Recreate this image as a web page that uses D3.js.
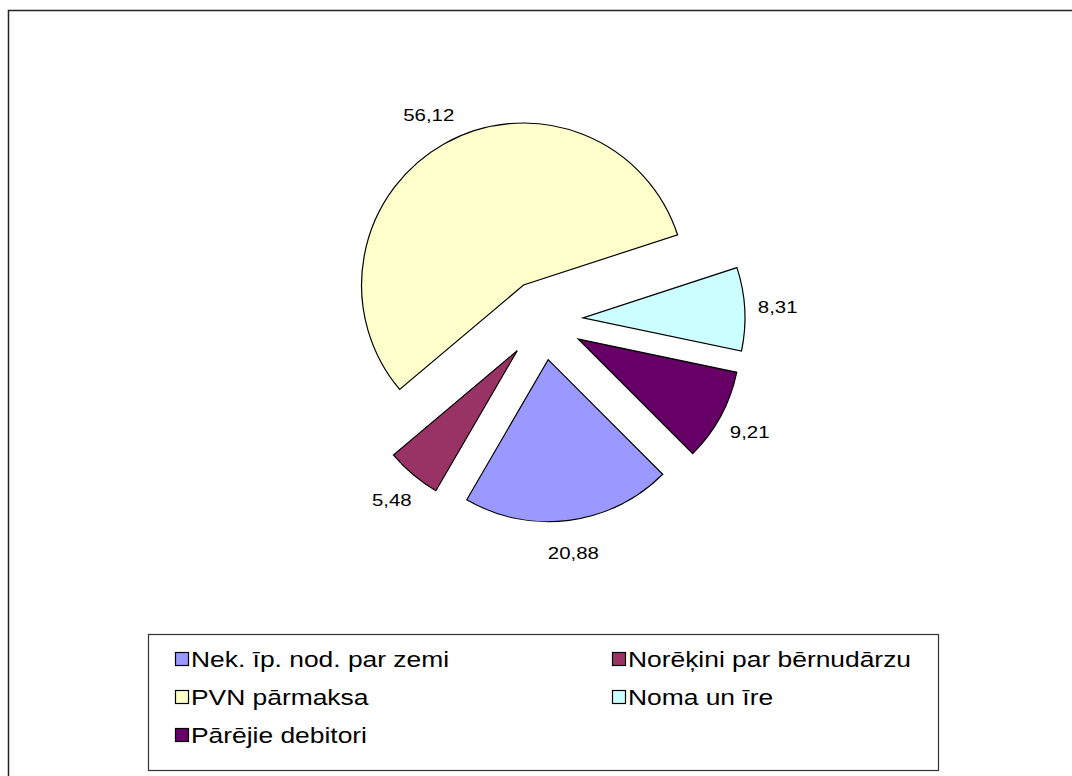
<!DOCTYPE html>
<html>
<head>
<meta charset="utf-8">
<script src="https://cdn.jsdelivr.net/npm/d3@7"></script>
<style>
  body { margin: 0; background: #fff; }
  text { font-family: "Liberation Sans", Arial, sans-serif; fill: #000; }
</style>
</head>
<body>
<div id="chart"></div>
<script>
// data
const categories = ['Nek. īp. nod. par zemi', 'Norēķini par bērnudārzu', 'PVN pārmaksa', 'Noma un īre', 'Pārējie debitori'];
const values = [20.88, 5.48, 56.12, 8.31, 9.21];
const palette = ['#9999FF', '#993366', '#FFFFCC', '#CCFFFF', '#660066'];

const w = 1072, h = 776;
const cx = 543, cy = 320, radius = 162, explode = 40, labelGap = 33;
const stretch = 1.2; // the original text is drawn a bit wider than it is tall

const svg = d3.select('#chart')
              .append('svg')
              .attr('width', w)
              .attr('height', h);

// outer chart frame (runs off the right and bottom edge)
svg.append('rect')
   .attr('x', 8.5)
   .attr('y', 10.5)
   .attr('width', 1100)
   .attr('height', 800)
   .attr('fill', 'none')
   .attr('stroke', '#222')
   .attr('stroke-width', 1.5);

const color = d3.scaleOrdinal().domain(categories).range(palette);
const fmt = v => d3.format('.2f')(v).replace('.', ',');

const pie = d3.pie()
              .sort(null)
              .value(d => d.value)
              .startAngle(Math.PI * 0.75)
              .endAngle(Math.PI * 2.75);

const arc = d3.arc().innerRadius(0).outerRadius(radius);

const arcs = pie(categories.map((c, i) => ({ name: c, value: values[i] })));

const g = svg.append('g').attr('transform', `translate(${cx},${cy})`);

const mid = d => (d.startAngle + d.endAngle) / 2;

g.selectAll('path')
 .data(arcs)
 .enter()
 .append('path')
 .attr('transform', d => `translate(${Math.sin(mid(d)) * explode},${-Math.cos(mid(d)) * explode})`)
 .attr('d', arc)
 .attr('fill', d => color(d.data.name))
 .attr('stroke', '#000')
 .attr('stroke-width', 1.2)
 .attr('stroke-linejoin', 'miter');

const lr = radius + explode + labelGap;
g.selectAll('text.lbl')
 .data(arcs)
 .enter()
 .append('text')
 .attr('class', 'lbl')
 .attr('transform', d => `translate(${Math.sin(mid(d)) * lr},${-Math.cos(mid(d)) * lr}) scale(${stretch},1)`)
 .attr('text-anchor', 'middle')
 .attr('dominant-baseline', 'central')
 .attr('font-size', '17px')
 .text(d => fmt(d.data.value));

// legend
const legend = svg.append('g');
legend.append('rect')
      .attr('x', 148.5)
      .attr('y', 634.5)
      .attr('width', 790)
      .attr('height', 136)
      .attr('fill', '#fff')
      .attr('stroke', '#333')
      .attr('stroke-width', 1.2);

const colX = [175, 612];
const rowY = [659, 697, 735];
const items = legend.selectAll('g.item')
                    .data(categories)
                    .enter()
                    .append('g')
                    .attr('class', 'item')
                    .attr('transform', (d, i) => `translate(${colX[i % 2]},${rowY[Math.floor(i / 2)]})`);

items.append('rect')
     .attr('x', 0.5)
     .attr('y', -6.5)
     .attr('width', 13)
     .attr('height', 13)
     .attr('fill', d => color(d))
     .attr('stroke', '#000')
     .attr('stroke-width', 1.2);

items.append('text')
     .attr('transform', `translate(16,0) scale(${stretch},1)`)
     .attr('dominant-baseline', 'central')
     .attr('font-size', '22px')
     .text(d => d);
</script>
</body>
</html>
